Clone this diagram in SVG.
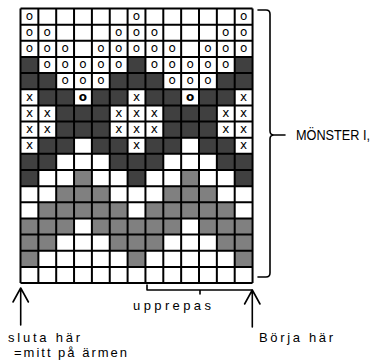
<svg xmlns="http://www.w3.org/2000/svg" width="386" height="361" viewBox="0 0 386 361">
<style>
.d{fill:#404040}
.m{fill:#808080}
.grid{fill:none;stroke:#000;stroke-width:2}
.c{font-family:"DejaVu Sans",sans-serif;font-size:12px;text-anchor:middle;fill:#000}
.b{font-weight:bold}
.lbl{font-family:"Liberation Sans",Arial,sans-serif;font-size:13px;fill:#000}
.big{font-size:14px}
.ln{fill:none;stroke:#000;stroke-width:1.6;stroke-linecap:round;stroke-linejoin:round}
</style>
<rect width="386" height="361" fill="#fff"/>
<g id="chart">
<g id="fills" transform="translate(20.5 8.5) scale(17.85 16.15)">
<rect class="d" x="0" y="3" width="1" height="1"/><rect class="d" x="6" y="3" width="1" height="1"/><rect class="d" x="12" y="3" width="1" height="1"/>
<rect class="d" x="0" y="4" width="2" height="1"/><rect class="d" x="5" y="4" width="3" height="1"/><rect class="d" x="11" y="4" width="2" height="1"/>
<rect class="d" x="1" y="5" width="2" height="1"/><rect class="d" x="4" y="5" width="2" height="1"/><rect class="d" x="7" y="5" width="2" height="1"/><rect class="d" x="10" y="5" width="2" height="1"/>
<rect class="d" x="2" y="6" width="3" height="2"/><rect class="d" x="8" y="6" width="3" height="2"/>
<rect class="d" x="1" y="8" width="2" height="1"/><rect class="d" x="4" y="8" width="2" height="1"/><rect class="d" x="7" y="8" width="2" height="1"/><rect class="d" x="10" y="8" width="2" height="1"/>
<rect class="d" x="0" y="9" width="2" height="1"/><rect class="d" x="5" y="9" width="3" height="1"/><rect class="d" x="11" y="9" width="2" height="1"/>
<rect class="d" x="0" y="10" width="1" height="1"/><rect class="d" x="6" y="10" width="1" height="1"/><rect class="d" x="12" y="10" width="1" height="1"/>
<rect class="m" x="3" y="10" width="1" height="1"/><rect class="m" x="9" y="10" width="1" height="1"/>
<rect class="m" x="2" y="11" width="3" height="1"/><rect class="m" x="8" y="11" width="3" height="1"/>
<rect class="m" x="1" y="12" width="5" height="1"/><rect class="m" x="7" y="12" width="5" height="1"/>
<rect class="m" x="0" y="13" width="3" height="1"/><rect class="m" x="4" y="13" width="5" height="1"/><rect class="m" x="10" y="13" width="3" height="1"/>
<rect class="m" x="0" y="14" width="2" height="1"/><rect class="m" x="5" y="14" width="3" height="1"/><rect class="m" x="11" y="14" width="2" height="1"/>
<rect class="m" x="0" y="15" width="1" height="1"/><rect class="m" x="6" y="15" width="1" height="1"/><rect class="m" x="12" y="15" width="1" height="1"/>
</g>
<path class="grid" d="M20.5,8.5V283.05M38.35,8.5V283.05M56.2,8.5V283.05M74.05,8.5V283.05M91.9,8.5V283.05M109.75,8.5V283.05M127.6,8.5V283.05M145.45,8.5V283.05M163.3,8.5V283.05M181.15,8.5V283.05M199,8.5V283.05M216.85,8.5V283.05M234.7,8.5V283.05M252.55,8.5V283.05
M20.5,8.5H252.55M20.5,24.65H252.55M20.5,40.8H252.55M20.5,56.95H252.55M20.5,73.1H252.55M20.5,89.25H252.55M20.5,105.4H252.55M20.5,121.55H252.55M20.5,137.7H252.55M20.5,153.85H252.55M20.5,170H252.55M20.5,186.15H252.55M20.5,202.3H252.55M20.5,218.45H252.55M20.5,234.6H252.55M20.5,250.75H252.55M20.5,266.9H252.55M20.5,283.05H252.55"/>
<g id="symbols">
<text class="c" x="29.43" y="19.8">o</text><text class="c" x="136.53" y="19.8">o</text><text class="c" x="243.63" y="19.8">o</text>
<text class="c" x="29.43" y="35.95">o</text><text class="c" x="47.28" y="35.95">o</text><text class="c" x="118.68" y="35.95">o</text><text class="c" x="136.53" y="35.95">o</text><text class="c" x="154.38" y="35.95">o</text><text class="c" x="225.78" y="35.95">o</text><text class="c" x="243.63" y="35.95">o</text>
<text class="c" x="29.43" y="52.1">o</text><text class="c" x="47.28" y="52.1">o</text><text class="c" x="65.13" y="52.1">o</text><text class="c" x="100.83" y="52.1">o</text><text class="c" x="118.68" y="52.1">o</text><text class="c" x="136.53" y="52.1">o</text><text class="c" x="154.38" y="52.1">o</text><text class="c" x="172.23" y="52.1">o</text><text class="c" x="207.93" y="52.1">o</text><text class="c" x="225.78" y="52.1">o</text><text class="c" x="243.63" y="52.1">o</text>
<text class="c" x="47.28" y="68.25">o</text><text class="c" x="65.13" y="68.25">o</text><text class="c" x="82.98" y="68.25">o</text><text class="c" x="100.83" y="68.25">o</text><text class="c" x="118.68" y="68.25">o</text><text class="c" x="154.38" y="68.25">o</text><text class="c" x="172.23" y="68.25">o</text><text class="c" x="190.08" y="68.25">o</text><text class="c" x="207.93" y="68.25">o</text><text class="c" x="225.78" y="68.25">o</text>
<text class="c" x="65.13" y="84.4">o</text><text class="c" x="82.98" y="84.4">o</text><text class="c" x="100.83" y="84.4">o</text><text class="c" x="172.23" y="84.4">o</text><text class="c" x="190.08" y="84.4">o</text><text class="c" x="207.93" y="84.4">o</text>
<text class="c" x="29.43" y="100.55">x</text><text class="c b" x="82.98" y="100.55">o</text><text class="c" x="136.53" y="100.55">x</text><text class="c b" x="190.08" y="100.55">o</text><text class="c" x="243.63" y="100.55">x</text>
<text class="c" x="29.43" y="116.7">x</text><text class="c" x="47.28" y="116.7">x</text><text class="c" x="118.68" y="116.7">x</text><text class="c" x="136.53" y="116.7">x</text><text class="c" x="154.38" y="116.7">x</text><text class="c" x="225.78" y="116.7">x</text><text class="c" x="243.63" y="116.7">x</text>
<text class="c" x="29.43" y="132.85">x</text><text class="c" x="47.28" y="132.85">x</text><text class="c" x="118.68" y="132.85">x</text><text class="c" x="136.53" y="132.85">x</text><text class="c" x="154.38" y="132.85">x</text><text class="c" x="225.78" y="132.85">x</text><text class="c" x="243.63" y="132.85">x</text>
<text class="c" x="29.43" y="149">x</text><text class="c" x="136.53" y="149">x</text><text class="c" x="243.63" y="149">x</text>
</g>
</g>
<g id="connectors">
<path id="brace-right" class="ln" d="M258,10H266Q270,10 270,14V131Q270,135 274,135H285M274,135Q270,135 270,139V273Q270,277 266,277H258"/>
<path id="brace-repeat" class="ln" d="M147,285V290H252M200,290V294"/>
<path id="arrow-left" class="ln" d="M20.7,325V288M13,302L20.7,288L28.4,302"/>
<path id="arrow-right" class="ln" d="M252.3,327V290M244.6,304L252.3,290L260,304"/>
</g>
<g id="labels">
<text class="lbl big" x="296" y="140" textLength="74" lengthAdjust="spacingAndGlyphs">MÖNSTER I,</text>
<text class="lbl" x="133" y="310" textLength="78" lengthAdjust="spacing">upprepas</text>
<text class="lbl" x="8" y="342" textLength="72" lengthAdjust="spacing">sluta här</text>
<text class="lbl" x="14" y="357" textLength="113" lengthAdjust="spacing">=mitt på ärmen</text>
<text class="lbl" x="259" y="342" textLength="74" lengthAdjust="spacing">Börja här</text>
</g>
</svg>
